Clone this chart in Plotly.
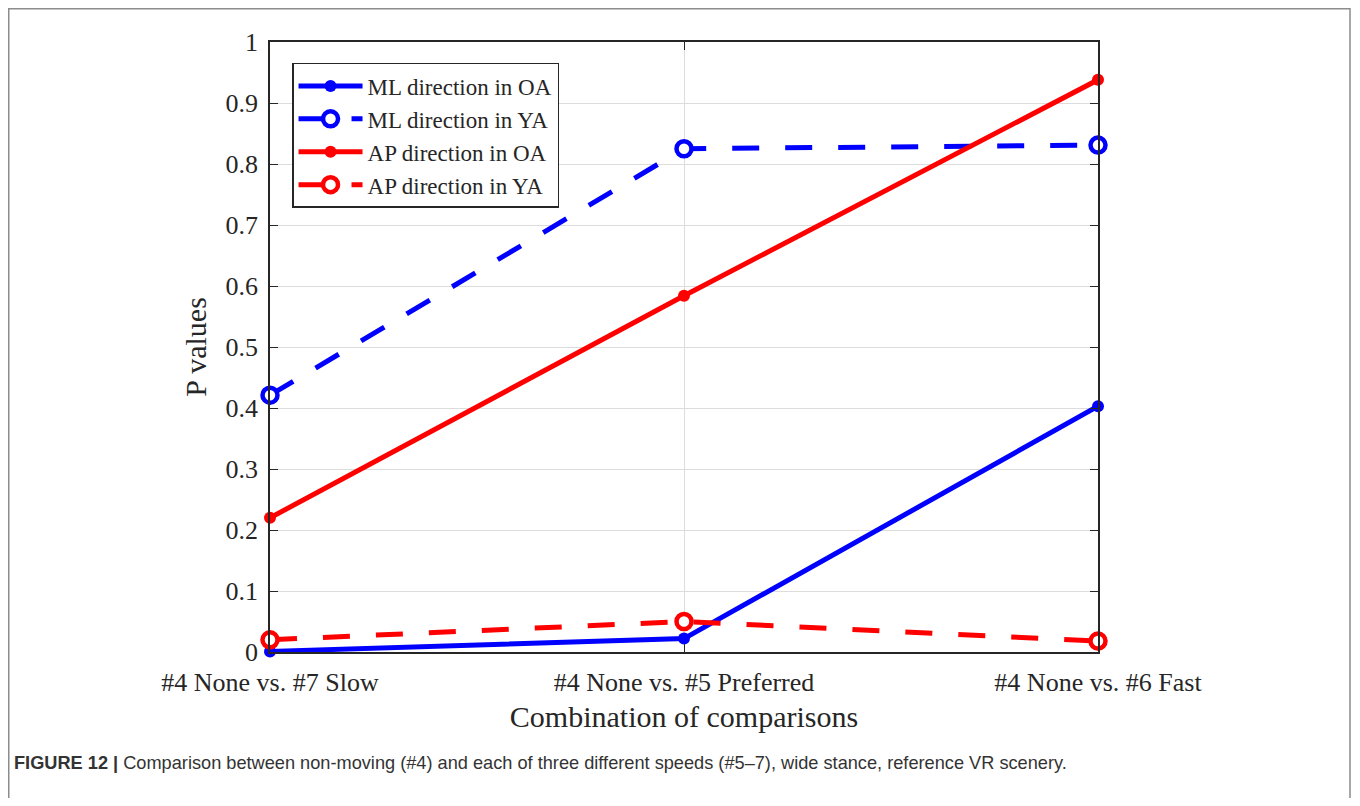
import plotly.graph_objects as go

categories = ["#4 None vs. #7 Slow", "#4 None vs. #5 Preferred", "#4 None vs. #6 Fast"]
ml_oa = [0.001, 0.022, 0.403]
ml_ya = [0.421, 0.825, 0.831]
ap_oa = [0.220, 0.584, 0.938]
ap_ya = [0.020, 0.050, 0.018]
y_ticks = [0, 0.1, 0.2, 0.3, 0.4, 0.5, 0.6, 0.7, 0.8, 0.9, 1]
y_ticktext = ["0", "0.1", "0.2", "0.3", "0.4", "0.5", "0.6", "0.7", "0.8", "0.9", "1"]

xs = list(range(len(categories)))
BLUE = "#0000ff"
RED = "#ff0000"
SERIF = "Liberation Serif, Times New Roman, serif"
TXT = "#262626"

fig = go.Figure()

def add(name, ys, color, dashed):
    if dashed:
        marker = dict(symbol="circle", size=15, color="white", line=dict(color=color, width=4.5))
        line = dict(color=color, width=5, dash="27px,26px")
    else:
        marker = dict(symbol="circle", size=12, color=color, line=dict(color=color, width=0))
        line = dict(color=color, width=5)
    fig.add_trace(go.Scatter(x=xs, y=ys, mode="lines+markers", name=name,
                             line=line, marker=marker, cliponaxis=False))

add("ML direction in OA", ml_oa, BLUE, False)
add("ML direction in YA", ml_ya, BLUE, True)
add("AP direction in OA", ap_oa, RED, False)
add("AP direction in YA", ap_ya, RED, True)

W, H = 1344, 790
L, T, PW, PH = 262, 34, 828, 610

fig.update_layout(
    width=W, height=H,
    margin=dict(l=L, r=W - L - PW, t=T, b=H - T - PH),
    paper_bgcolor="white", plot_bgcolor="white",
    font=dict(family=SERIF, color=TXT),
    showlegend=True,
    legend=dict(x=0.0266, y=0.9656, xanchor="left", yanchor="top",
                bgcolor="white", bordercolor=TXT, borderwidth=1.5,
                font=dict(family=SERIF, size=23, color=TXT),
                tracegroupgap=0, itemwidth=64),
    xaxis=dict(range=[0, 2], tickmode="array", tickvals=xs, ticktext=categories,
               showgrid=True, gridcolor="#dcdcdc", gridwidth=1,
               showline=True, linecolor=TXT, linewidth=1.5, mirror="ticks",
               ticks="inside", ticklen=8, tickcolor=TXT, ticklabelstandoff=6,
               tickfont=dict(family=SERIF, size=26, color=TXT),
               title=dict(text="Combination of comparisons",
                          font=dict(family=SERIF, size=30, color=TXT), standoff=10),
               zeroline=False),
    yaxis=dict(range=[0, 1], tickmode="array", tickvals=y_ticks, ticktext=y_ticktext,
               showgrid=True, gridcolor="#dcdcdc", gridwidth=1,
               showline=True, linecolor=TXT, linewidth=1.5, mirror="ticks",
               ticks="inside", ticklen=8, tickcolor=TXT, ticklabelstandoff=5,
               tickfont=dict(family=SERIF, size=26, color=TXT),
               title=dict(text="P values",
                          font=dict(family=SERIF, size=30, color=TXT), standoff=10),
               zeroline=False),
)

# outer figure frame (open at the bottom, as in the cropped reference)
fig.add_shape(type="rect", xref="paper", yref="paper",
              x0=(0.75 - L) / PW, x1=(1342 - L) / PW,
              y0=(T + PH - 805) / PH, y1=(T + PH - 0.75) / PH,
              line=dict(color="#8c8c8c", width=1.5), fillcolor="rgba(0,0,0,0)", layer="below")

fig.add_annotation(xref="paper", yref="paper", x=(4 - L) / PW, y=(T + PH - 755) / PH,
                   xanchor="left", yanchor="middle", showarrow=False,
                   text="<b>FIGURE 12 |</b> Comparison between non-moving (#4) and each of three different speeds (#5–7), wide stance, reference VR scenery.",
                   font=dict(family="Liberation Sans, Arial, sans-serif", size=18.2, color="#333333"))

fig.write_html("out.html")
